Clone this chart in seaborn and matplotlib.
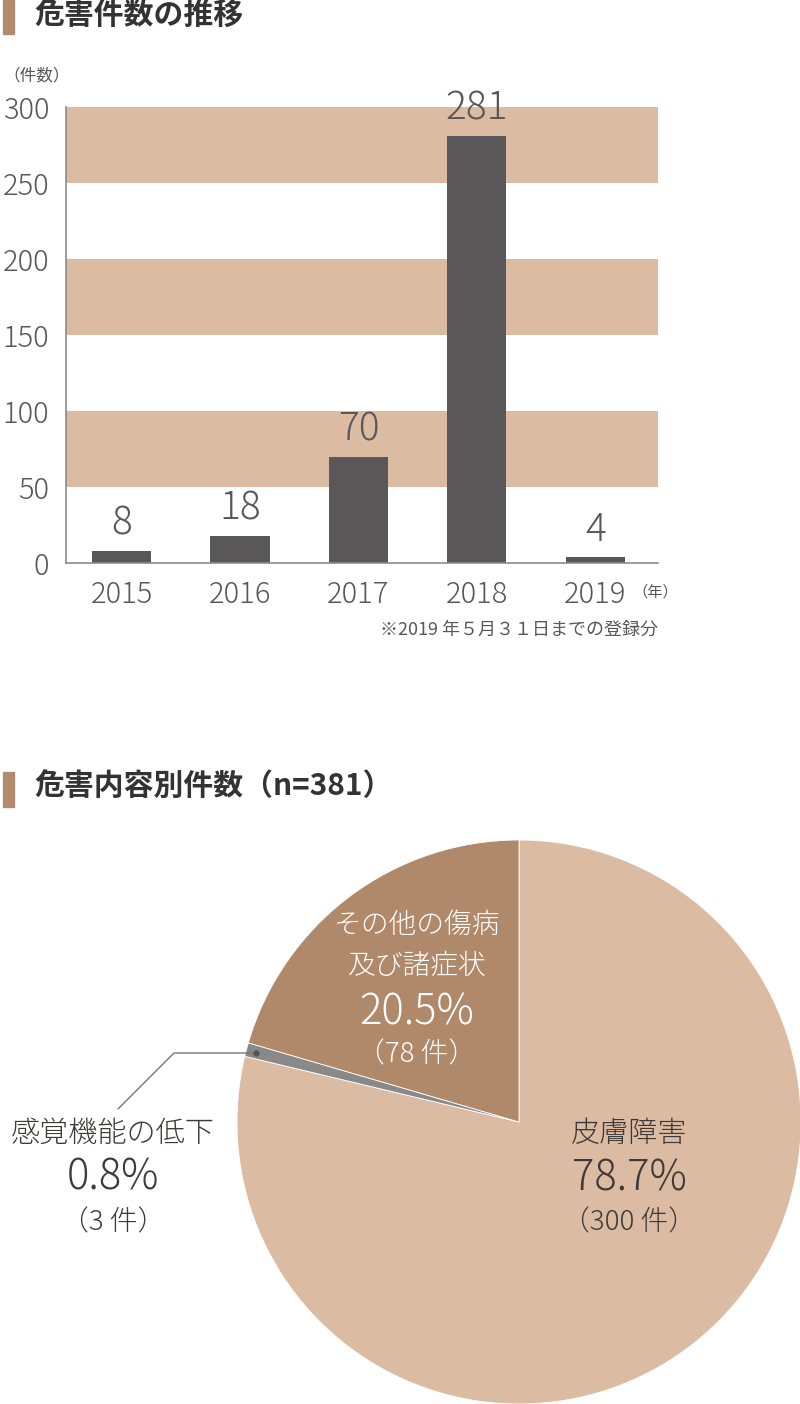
import matplotlib
matplotlib.use("Agg")
import matplotlib.pyplot as plt
from matplotlib.patches import Rectangle
import seaborn as sns
import pandas as pd

# ---- data ----
years = ["2015", "2016", "2017", "2018", "2019"]
counts = [8, 18, 70, 281, 4]
yticks = [0, 50, 100, 150, 200, 250, 300]
bands = [(50, 100), (150, 200), (250, 300)]

pie_labels = ["皮膚障害", "感覚機能の低下", "その他の傷病\n及び諸症状"]
pie_counts = [300, 3, 78]
pie_pcts = ["78.7%", "0.8%", "20.5%"]

sns.set_theme(style="white")
plt.rcParams["font.family"] = ["Noto Sans CJK JP", "DejaVu Sans"]
LIGHT = "light"

TAN = "#dcbba3"
BROWN = "#b0896a"
GRAY = "#898989"
BAR = "#595757"
TXT = "#595757"
DARK = "#3e3a39"

W, H = 800, 1404
fig = plt.figure(figsize=(W / 100, H / 100), dpi=100)


def fp(x, y):
    return (x / W, 1 - y / H)


# ---- titles ----
for (ty, ry0, ry1, txt) in [(16, 0, 34, "危害件数の推移"), (786, 772, 807, "危害内容別件数（n=381）")]:
    fig.patches.append(Rectangle(fp(3, ry1), 11 / W, (ry1 - ry0) / H,
                                 transform=fig.transFigure, color="#b38b6d"))
    fig.text(*fp(34, ty), txt, fontsize=21.5, fontweight="bold", color="#333333",
             va="center", ha="left")

# ---- bar chart ----
ax = fig.add_axes([66 / W, 1 - 563 / H, 592 / W, 456 / H])
for lo, hi in bands:
    ax.axhspan(lo, hi, color=TAN, zorder=0, lw=0)
df = pd.DataFrame({"year": years, "count": counts})
sns.barplot(data=df, x="year", y="count", color=BAR, width=0.5, ax=ax,
            saturation=1, zorder=2, linewidth=0, edgecolor=BAR)
ax.set_xlim(-0.47, len(years) - 0.47)
ax.set_ylim(0, 300)
ax.set_yticks(yticks)
ax.set_yticklabels([str(v) for v in yticks], fontweight=LIGHT)
ax.set_xticks(range(len(years)))
ax.set_xticklabels(years, fontweight=LIGHT)
ax.set_xlabel("")
ax.set_ylabel("")
for c in ax.containers:
    ax.bar_label(c, fmt="%d", padding=5, fontsize=28, color=TXT, fontweight=LIGHT)
ax.tick_params(axis="y", length=0, pad=12, labelsize=21, labelcolor=TXT)
ax.tick_params(axis="x", length=0, pad=12, labelsize=21, labelcolor=TXT)
for s in ["top", "right"]:
    ax.spines[s].set_visible(False)
for s in ["left", "bottom"]:
    ax.spines[s].set_color("#8c8c8c")
    ax.spines[s].set_linewidth(1.2)
    ax.spines[s].set_zorder(3)

fig.text(*fp(3, 76), "（件数）", fontsize=12, color=TXT, va="center", ha="left")
fig.text(*fp(632, 592), "（年）", fontsize=11, color=TXT, va="center", ha="left")
fig.text(*fp(658, 630), "※2019 年５月３１日までの登録分", fontsize=13, color=TXT,
         va="center", ha="right")

# ---- pie chart ----
cx, cy, R = 519, 1122, 282
pax = fig.add_axes([(cx - R) / W, 1 - (cy + R) / H, 2 * R / W, 2 * R / H])
pax.pie(pie_counts, colors=[TAN, GRAY, BROWN], startangle=90, counterclock=False,
        radius=1, wedgeprops=dict(linewidth=0.6, edgecolor="white"))
pax.set_xlim(-1, 1)
pax.set_ylim(-1, 1)
pax.set_aspect("equal")
pax.axis("off")


def pc(x, y):
    return ((x - cx) / R, (cy - y) / R)


def label_block(x, ys, texts, sizes, color):
    for y, t, s in zip(ys, texts, sizes):
        pax.text(*pc(x, y), t, fontsize=s, color=color, ha="center", va="center",
                 clip_on=False, fontweight=LIGHT)


label_block(629, [1134, 1179, 1222], [pie_labels[0], pie_pcts[0], f"（{pie_counts[0]} 件）"],
            [21, 30, 20], DARK)
label_block(113, [1134, 1178, 1222], [pie_labels[1], pie_pcts[1], f"（{pie_counts[1]} 件）"],
            [21, 30, 20], DARK)
l2a, l2b = pie_labels[2].split("\n")
label_block(417, [925, 966, 1013, 1054], [l2a, l2b, pie_pcts[2], f"（{pie_counts[2]} 件）"],
            [20, 20, 30, 20], "white")

# leader line for small slice
pax.plot([pc(256, 1053)[0], pc(174, 1053)[0], pc(118, 1109)[0]],
         [pc(256, 1053)[1], pc(174, 1053)[1], pc(118, 1109)[1]],
         color="#777777", lw=1, clip_on=False)
pax.plot(*pc(256, 1053), "o", color="#555555", ms=3.5, clip_on=False)

fig.savefig("out.png", dpi=100)
